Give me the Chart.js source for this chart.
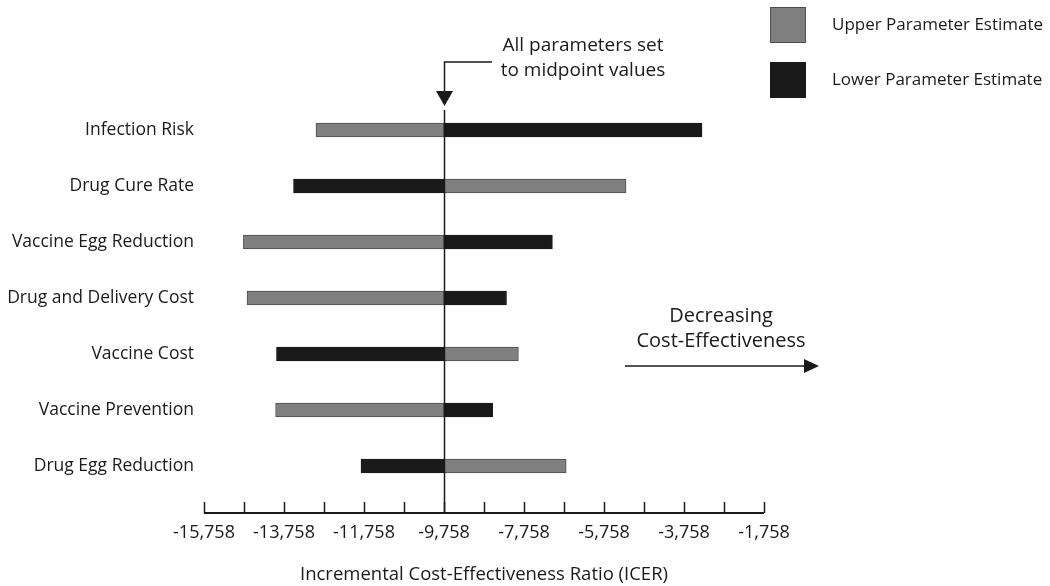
<!DOCTYPE html>
<html>
<head>
<meta charset="utf-8">
<script src="https://cdn.jsdelivr.net/npm/chart.js@4/dist/chart.umd.min.js"></script>
<style>
    html, body { margin: 0; padding: 0; background: #ffffff; }
    #wrap { width: 1050px; height: 586px; }
</style>
</head>
<body>
<div id="wrap"><canvas id="tornado" width="1050" height="586"></canvas></div>
<script>
// 토네이도 차트 - ICER 민감도 분석

const parameters = ['Infection Risk', 'Drug Cure Rate', 'Vaccine Egg Reduction', 'Drug and Delivery Cost', 'Vaccine Cost', 'Vaccine Prevention', 'Drug Egg Reduction'];
const midpoint = -9758; // 모든 파라미터 중간값일 때
const upperEstimate = [-12958, -5208, -14773, -14683, -7898, -13968, -6703];
const lowerEstimate = [-3308, -13520, -7048, -8195, -13946, -8540, -11833];
const tickValues = [-15758, -14758, -13758, -12758, -11758, -10758, -9758, -8758, -7758, -6758, -5758, -4758, -3758, -2758, -1758];

const INK = '#1a1a1a';
const GRAY = '#808080';
const FONT = '"Open Sans", "DejaVu Sans", sans-serif';

function fmt(v) {
    return v.toLocaleString('en-US');
}

// 축선, 중앙선, 범례, 주석을 직접 그림
const overlayPlugin = {
    id: 'overlay',
    afterDraw(chart) {
        const ctx = chart.ctx;
        const x = chart.scales.x;
        const area = chart.chartArea;
        const axisY = area.bottom + 19;
        const midX = Math.round(x.getPixelForValue(midpoint));

        ctx.save();
        ctx.strokeStyle = INK;
        ctx.fillStyle = INK;

        // x축 선 + 위로 향한 눈금
        ctx.lineWidth = 2;
        ctx.beginPath();
        ctx.moveTo(x.left, axisY);
        ctx.lineTo(x.right, axisY);
        ctx.stroke();
        ctx.lineWidth = 1.5;
        x.ticks.forEach(t => {
            const px = Math.round(x.getPixelForValue(t.value)) + 0.5;
            ctx.beginPath();
            ctx.moveTo(px, axisY);
            ctx.lineTo(px, axisY - 11);
            ctx.stroke();
        });

        // 중앙선
        ctx.lineWidth = 1.5;
        ctx.beginPath();
        ctx.moveTo(midX + 0.5, 110);
        ctx.lineTo(midX + 0.5, axisY);
        ctx.stroke();

        // 중간값 화살표
        ctx.lineWidth = 1.5;
        ctx.beginPath();
        ctx.moveTo(midX + 48, 62);
        ctx.lineTo(midX + 0.5, 62);
        ctx.lineTo(midX + 0.5, 93);
        ctx.stroke();
        ctx.beginPath();
        ctx.moveTo(midX - 8, 91);
        ctx.lineTo(midX + 9, 91);
        ctx.lineTo(midX + 0.5, 106);
        ctx.closePath();
        ctx.fill();

        ctx.font = '19px ' + FONT;
        ctx.textAlign = 'center';
        ctx.textBaseline = 'middle';
        ctx.fillText('All parameters set', 583, 46);
        ctx.fillText('to midpoint values', 583, 71);

        // 비용효과 감소 방향
        ctx.font = '20px ' + FONT;
        ctx.fillText('Decreasing', 721, 316);
        ctx.fillText('Cost-Effectiveness', 721, 341);
        ctx.lineWidth = 1.5;
        ctx.beginPath();
        ctx.moveTo(625, 366);
        ctx.lineTo(806, 366);
        ctx.stroke();
        ctx.beginPath();
        ctx.moveTo(804, 359);
        ctx.lineTo(819, 366);
        ctx.lineTo(804, 373);
        ctx.closePath();
        ctx.fill();

        // 범례
        const items = chart.data.datasets;
        const boxes = [[770, 7], [770, 62]];
        ctx.font = '17px ' + FONT;
        ctx.textAlign = 'left';
        items.forEach((ds, i) => {
            const [bx, by] = boxes[i];
            ctx.fillStyle = ds.backgroundColor;
            ctx.fillRect(bx, by, 36, 36);
            ctx.strokeStyle = ds.borderColor;
            ctx.lineWidth = 1;
            ctx.strokeRect(bx + 0.5, by + 0.5, 35, 35);
            ctx.fillStyle = INK;
            ctx.fillText(ds.label, 832, by + 18);
        });

        ctx.restore();
    }
};

new Chart(document.getElementById('tornado'), {
    type: 'bar',
    data: {
        labels: parameters,
        datasets: [
            {
                label: 'Upper Parameter Estimate',
                data: upperEstimate.map(v => [midpoint, v]),
                backgroundColor: GRAY,
                borderColor: '#4d4d4d',
                borderWidth: 1,
                borderSkipped: false,
                barThickness: 14,
                grouped: false
            },
            {
                label: 'Lower Parameter Estimate',
                data: lowerEstimate.map(v => [midpoint, v]),
                backgroundColor: INK,
                borderColor: INK,
                borderWidth: 1,
                borderSkipped: false,
                barThickness: 14,
                grouped: false
            }
        ]
    },
    options: {
        indexAxis: 'y',
        responsive: false,
        animation: false,
        layout: { padding: { top: 102, right: 286, left: 0, bottom: 0 } },
        plugins: {
            legend: { display: false },
            tooltip: { enabled: false }
        },
        scales: {
            x: {
                type: 'linear',
                min: -15758,
                max: -1758,
                afterBuildTicks: scale => {
                    scale.ticks = tickValues.map(v => ({ value: v }));
                },
                afterFit: scale => { scale.height = 92; },
                grid: { display: false, drawTicks: false },
                border: { display: false },
                ticks: {
                    autoSkip: false,
                    maxRotation: 0,
                    padding: 28,
                    color: INK,
                    font: { family: FONT, size: 18 },
                    callback: (value, index) => (index % 2 === 0 ? fmt(value) : '')
                },
                title: {
                    display: true,
                    text: 'Incremental Cost-Effectiveness Ratio (ICER)',
                    color: INK,
                    font: { family: FONT, size: 18.5 },
                    padding: { top: 0, bottom: 0 }
                }
            },
            y: {
                afterFit: scale => { scale.width = 204; },
                grid: { display: false, drawTicks: false },
                border: { display: false },
                ticks: {
                    padding: 10,
                    color: INK,
                    font: { family: FONT, size: 17.5 }
                }
            }
        }
    },
    plugins: [overlayPlugin]
});
</script>
</body>
</html>
